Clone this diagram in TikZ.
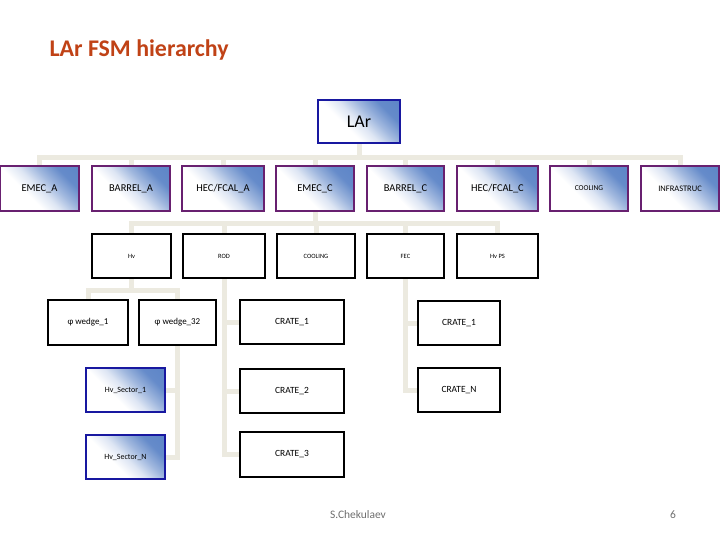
\documentclass[tikz,border=0pt]{standalone}
\usepackage{fontspec}
\setmainfont{Carlito}
\usetikzlibrary{backgrounds}
\definecolor{titlecol}{RGB}{192,66,22}
\definecolor{gblue}{RGB}{84,126,196}
\definecolor{purp}{RGB}{104,32,112}
\definecolor{navy}{RGB}{24,24,160}
\definecolor{conncol}{RGB}{236,234,224}
\definecolor{foot}{RGB}{110,110,110}
\pgfdeclareverticalshading{nodeshade}{100bp}{color(0bp)=(white); color(40bp)=(white); color(50bp)=(gblue!20); color(60bp)=(gblue!55); color(72bp)=(gblue!90); color(100bp)=(gblue)}
\tikzset{
  box/.style={draw, line width=1.6bp, inner sep=0pt, minimum height=44bp, align=center},
  lvlone/.style={box, draw=purp, shading=nodeshade, shading angle=-45, minimum width=79bp, minimum height=45bp, font=\fontsize{10.5}{12}\selectfont},
  bluebox/.style={box, draw=navy, shading=nodeshade, shading angle=-45},
  plain/.style={box, draw=black, fill=white},
  conn/.style={draw=conncol, line width=5bp},
}
\begin{document}
\begin{tikzpicture}[x=1bp,y=-1bp]
\useasboundingbox (0,0) rectangle (720,540);
\node[anchor=west, text=titlecol, font=\fontsize{24}{28}\selectfont\bfseries] (title) at (46,50) {LAr FSM hierarchy};

\node[bluebox, minimum width=82bp, minimum height=43bp, font=\fontsize{18}{20}\selectfont] (lar) at (359,121.5) {LAr};

\node[lvlone] (emeca) at (39.5,188.5) {EMEC\_A};
\node[lvlone, minimum width=78bp] (barrela) at (131,188.5) {BARREL\_A};
\node[lvlone, minimum width=82bp] (hecfcala) at (223,188.5) {HEC/FCAL\_A};
\node[lvlone, minimum width=78bp] (emecc) at (315,188.5) {EMEC\_C};
\node[lvlone, minimum width=77bp] (barrelc) at (405.5,188.5) {BARREL\_C};
\node[lvlone, minimum width=81bp] (hecfcalc) at (497.5,188.5) {HEC/FCAL\_C};
\node[lvlone, minimum width=78bp, font=\fontsize{7.5}{8}\selectfont] (cooling) at (589,188.5) {COOLING};
\node[lvlone, minimum width=78bp, font=\fontsize{8.5}{9}\selectfont] (infra) at (680,188.5) {INFRASTRUC};

\node[plain, minimum width=79bp, font=\fontsize{6.5}{7}\selectfont] (hv) at (131.5,256) {Hv};
\node[plain, minimum width=82bp, font=\fontsize{6.5}{7}\selectfont] (rod) at (224,256) {ROD};
\node[plain, minimum width=78bp, font=\fontsize{6.5}{7}\selectfont] (cool2) at (316,256) {COOLING};
\node[plain, minimum width=77bp, font=\fontsize{6.5}{7}\selectfont] (fec) at (405.5,256) {FEC};
\node[plain, minimum width=81bp, font=\fontsize{6.5}{7}\selectfont] (hvps) at (497.5,256) {Hv PS};

\node[plain, minimum width=80bp, minimum height=45bp, font=\fontsize{9}{10}\selectfont] (w1) at (88,322.5) {φ wedge\_1};
\node[plain, minimum width=77bp, minimum height=45bp, font=\fontsize{9}{10}\selectfont] (w32) at (177.5,322.5) {φ wedge\_32};

\node[bluebox, minimum width=79bp, font=\fontsize{8}{9}\selectfont] (s1) at (125.5,390) {Hv\_Sector\_1};
\node[bluebox, minimum width=79bp, font=\fontsize{8}{9}\selectfont] (sn) at (125.5,457) {Hv\_Sector\_N};

\node[plain, minimum width=104bp, font=\fontsize{9.5}{10}\selectfont] (rc1) at (292,322) {CRATE\_1};
\node[plain, minimum width=104bp, font=\fontsize{9.5}{10}\selectfont] (rc2) at (292,391) {CRATE\_2};
\node[plain, minimum width=104bp, minimum height=45bp, font=\fontsize{9.5}{10}\selectfont] (rc3) at (292,454.5) {CRATE\_3};

\node[plain, minimum width=82bp, font=\fontsize{9.5}{10}\selectfont] (fc1) at (459,323) {CRATE\_1};
\node[plain, minimum width=82bp, font=\fontsize{9.5}{10}\selectfont] (fcn) at (459,390) {CRATE\_N};

\node[text=foot, font=\fontsize{11.5}{13}\selectfont] (author) at (358,515) {S.Chekulaev};
\node[text=foot, font=\fontsize{11.5}{13}\selectfont] (page) at (673,515) {6};

\begin{scope}[on background layer]
  \foreach \n in {emeca,barrela,hecfcala,emecc,barrelc,hecfcalc,cooling,infra}
    \draw[conn] (lar.south) -- (lar.south |- 0,158) -| (\n.north);
  \foreach \n in {hv,rod,cool2,fec,hvps}
    \draw[conn] (emecc.south) -- (emecc.south |- 0,224) -| (\n.north);
  \foreach \n in {w1,w32}
    \draw[conn] (hv.south) -- (hv.south |- 0,290) -| (\n.north);
  \foreach \n in {s1,sn}
    \draw[conn] (w32.south) |- (\n.east);
  \foreach \n in {rc1,rc2,rc3}
    \draw[conn] (rod.south) |- (\n.west);
  \foreach \n in {fc1,fcn}
    \draw[conn] (fec.south) |- (\n.west);
\end{scope}
\end{tikzpicture}
\end{document}
